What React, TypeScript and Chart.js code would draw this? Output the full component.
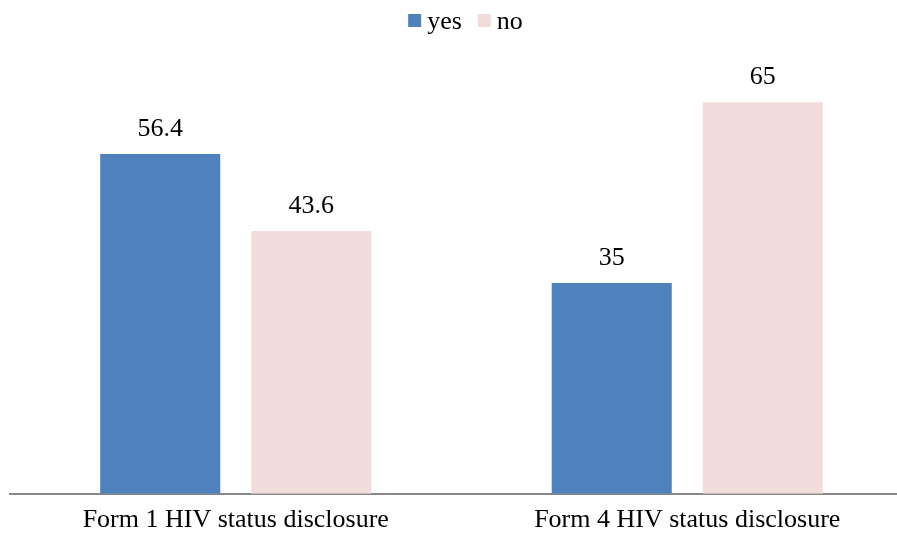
import React, { useEffect, useRef } from "react";
import { Chart, registerables } from "chart.js";

Chart.register(...registerables);

const categories = ["Form 1 HIV status disclosure", "Form 4 HIV status disclosure"];
const seriesNames = ["yes", "no"];
const yesValues = [56.4, 35];
const noValues = [43.6, 65];
const valueLabelsYes = ["56.4", "35"];
const valueLabelsNo = ["43.6", "65"];
const seriesColors = ["#4F81BD", "#F2DCDB"];

const FONT = "'Liberation Serif', 'Times New Roman', serif";

const valueLabelPlugin = {
  id: "valueLabels",
  afterDatasetsDraw(chart: any) {
    const ctx = chart.ctx;
    ctx.save();
    ctx.font = `26px ${FONT}`;
    ctx.fillStyle = "#000";
    ctx.textAlign = "center";
    ctx.textBaseline = "alphabetic";
    const labelSets = [valueLabelsYes, valueLabelsNo];
    chart.data.datasets.forEach((_: any, di: number) => {
      const meta = chart.getDatasetMeta(di);
      meta.data.forEach((bar: any, i: number) => {
        ctx.fillText(labelSets[di][i], bar.x, bar.y - 18);
      });
    });
    ctx.restore();
  },
};

const customLegend = {
  id: "customLegend",
  afterDraw(chart: any) {
    const ctx = chart.ctx;
    ctx.save();
    ctx.font = `26px ${FONT}`;
    ctx.textBaseline = "alphabetic";
    ctx.textAlign = "left";
    const box = 13, gapText = 6, gapItem = 16;
    const widths = seriesNames.map((n) => box + gapText + ctx.measureText(n).width);
    const total = widths.reduce((a, b) => a + b, 0) + gapItem * (seriesNames.length - 1);
    const ca = chart.chartArea;
    let x = (ca.left + ca.right) / 2 + 4 - total / 2;
    seriesNames.forEach((n, i) => {
      ctx.fillStyle = seriesColors[i];
      ctx.fillRect(x, 14, box, box);
      ctx.fillStyle = "#000";
      ctx.fillText(n, x + box + gapText, 29);
      x += widths[i] + gapItem;
    });
    ctx.restore();
  },
};

export default function App() {
  const ref = useRef<HTMLCanvasElement>(null);
  useEffect(() => {
    const chart = new Chart(ref.current!, {
      type: "bar",
      data: {
        labels: categories,
        datasets: [
          { label: seriesNames[0], data: yesValues, backgroundColor: seriesColors[0], barPercentage: 0.795, categoryPercentage: 0.669 },
          { label: seriesNames[1], data: noValues, backgroundColor: seriesColors[1], barPercentage: 0.795, categoryPercentage: 0.669 },
        ],
      },
      options: {
        animation: false,
        responsive: true,
        maintainAspectRatio: false,
        layout: { padding: { left: 10, right: 0, top: 72, bottom: 1 } },
        plugins: {
          legend: { display: false },
          tooltip: { enabled: false },
        },
        scales: {
          x: {
            grid: { display: false, drawTicks: false },
            border: { color: "#888", width: 2 },
            ticks: { color: "#000", font: { family: FONT, size: 26 }, padding: 11 },
          },
          y: { display: false, min: 0, max: 70 },
        },
      },
      plugins: [valueLabelPlugin, customLegend],
    });
    return () => chart.destroy();
  }, []);
  return (
    <div style={{ position: "fixed", left: 0, top: 0, width: 897, height: 538, overflow: "hidden", background: "#fff" }}>
      <div style={{ position: "absolute", left: 0, top: 0, width: 913, height: 548 }}>
        <canvas ref={ref} />
      </div>
    </div>
  );
}
